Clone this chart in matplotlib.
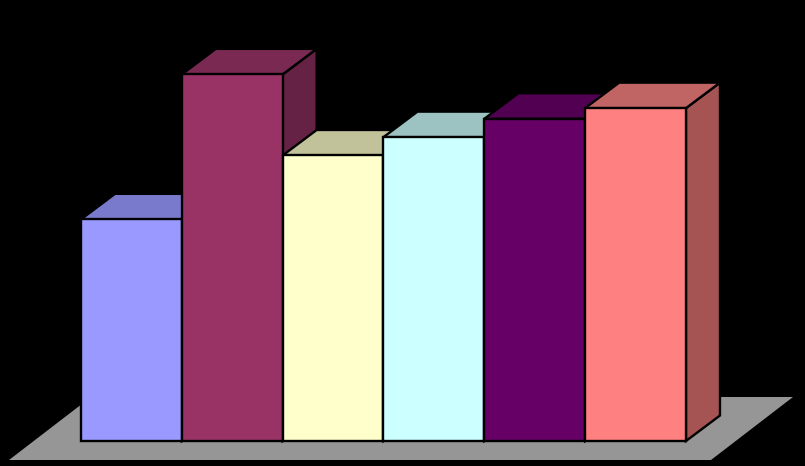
import matplotlib
matplotlib.use("Agg")
import matplotlib.pyplot as plt
from matplotlib.patches import Polygon
from matplotlib.transforms import Affine2D

categories = ["A", "B", "C", "D", "E", "F"]
values = [60.4, 99.9, 77.8, 82.8, 87.8, 90.7]
colors = ["#9999FF", "#993366", "#FFFFCC", "#CCFFFF", "#660066", "#FF8080"]
tops = ["#7A7ACC", "#7A2952", "#C2C29A", "#9CC2C2", "#520052", "#C06464"]
sides = ["#6363A6", "#662244", "#A6A685", "#85A6A6", "#420042", "#A65353"]

W, H = 805, 466
X0, BAR_W, Y0, PX_PER_UNIT = 81.0, 100.83, 441.0, 3.67
DX_PX, DY_PX = 34.0, 25.5
LW = 1.7

fig = plt.figure(figsize=(W / 100, H / 100), dpi=100, facecolor="black")
ax = fig.add_axes([0, 0, 1, 1], facecolor="black")
ax.set_xlim(-X0 / BAR_W, (W - X0) / BAR_W)
ax.set_ylim(-(H - Y0) / PX_PER_UNIT, Y0 / PX_PER_UNIT)
ax.axis("off")

pixel = Affine2D().scale(1, -1).translate(0, H)  # top-left pixel coordinates
ax.add_patch(Polygon([(9, 460), (711, 460), (793, 397), (91, 397)], closed=True,
                     facecolor="#969696", edgecolor="none",
                     transform=pixel, zorder=1))

dx = DX_PX / BAR_W
dy = DY_PX / PX_PER_UNIT
for i, (cat, v, c, t, s) in enumerate(zip(categories, values, colors, tops, sides)):
    z = 2 + i
    kw = dict(closed=True, edgecolor="black", linewidth=LW, joinstyle="miter", zorder=z)
    ax.add_patch(Polygon([(i + 1, 0), (i + 1 + dx, dy), (i + 1 + dx, v + dy), (i + 1, v)],
                         facecolor=s, **kw))
    ax.add_patch(Polygon([(i, v), (i + dx, v + dy), (i + 1 + dx, v + dy), (i + 1, v)],
                         facecolor=t, **kw))
    ax.bar(i, v, width=1, align="edge", color=c, edgecolor="black", linewidth=LW, zorder=z)

fig.savefig("out.png", dpi=100, facecolor="black")
